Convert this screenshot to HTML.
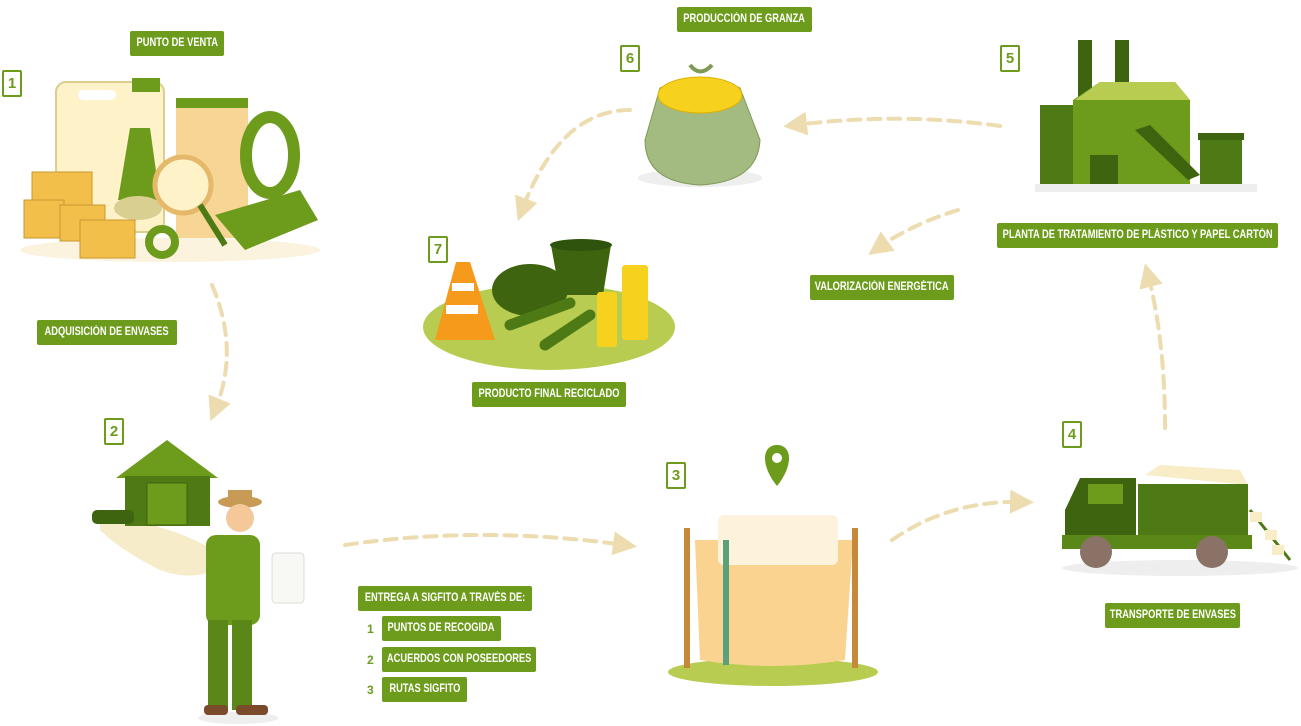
<!DOCTYPE html>
<html><head><meta charset="utf-8"><style>
body{margin:0;width:1301px;height:726px;background:#fff;position:relative;overflow:hidden;font-family:"Liberation Sans",sans-serif}
.l{position:absolute;background:#6d9c1c;color:#fff;font-weight:bold;font-size:11.5px;height:25px;line-height:25px;border-radius:2px;white-space:nowrap;display:flex;justify-content:center}
.l span{display:block;flex-shrink:0;transform:scaleX(0.81);transform-origin:center}
.n{position:absolute;width:16px;height:23px;border:2px solid #6d9c1c;border-radius:2px;color:#6d9c1c;font-weight:bold;font-size:15px;line-height:23px;text-align:center}
.t{position:absolute;color:#6d9c1c;font-weight:bold;font-size:12px}
svg{position:absolute;left:0;top:0}
</style></head><body>
<svg width="1301" height="726" viewBox="0 0 1301 726">
<defs><marker id="a" viewBox="0 0 10 10" refX="5" refY="5" markerWidth="6" markerHeight="6" orient="auto"><path d="M0,0L10,5L0,10z" fill="#eddcb0"/></marker></defs>
<g fill="none" stroke="#eddcb0" stroke-width="4" stroke-dasharray="12 8" stroke-linecap="round" marker-end="url(#a)">
<path d="M212,285 Q240,350 215,410"/>
<path d="M630,110 Q560,110 522,210"/>
<path d="M1000,126 Q900,112 795,125"/>
<path d="M958,210 Q910,225 878,248"/>
<path d="M345,545 Q480,525 625,545"/>
<path d="M892,540 Q950,500 1022,502"/>
<path d="M1165,428 Q1165,340 1148,275"/>
</g>
<!-- scene 1 -->
<ellipse cx="170" cy="250" rx="150" ry="12" fill="#fbf3de"/>
<rect x="56" y="82" width="108" height="150" rx="10" fill="#fdf2c8" stroke="#d9cf90" stroke-width="2"/>
<rect x="78" y="90" width="38" height="10" rx="5" fill="#fff"/>
<rect x="132" y="78" width="28" height="14" fill="#6d9c1c"/>
<path d="M176,98h72v140h-72z" fill="#f7d695"/><rect x="176" y="98" width="72" height="10" fill="#6d9c1c"/>
<ellipse cx="270" cy="155" rx="24" ry="38" fill="none" stroke="#6d9c1c" stroke-width="12"/>
<path d="M118,200 L130,128 L150,128 L160,200z" fill="#6d9c1c"/><ellipse cx="138" cy="208" rx="24" ry="12" fill="#d9cf90"/>
<circle cx="183" cy="185" r="28" fill="#fdf2c8" stroke="#e6b86a" stroke-width="5"/><path d="M200,205 L225,245" stroke="#4d7a14" stroke-width="6"/>
<path d="M215,215 L300,190 L318,220 L245,250z" fill="#6d9c1c"/>
<g fill="#f2bf4b" stroke="#c99a30"><rect x="32" y="172" width="60" height="35"/><rect x="24" y="200" width="40" height="38"/><rect x="60" y="205" width="45" height="36"/><rect x="80" y="220" width="55" height="38"/></g>
<circle cx="162" cy="242" r="13" fill="none" stroke="#6d9c1c" stroke-width="8"/>
<!-- scene 2 -->
<path d="M100,515 Q180,525 230,560 Q200,585 160,570 Q120,550 100,530z" fill="#f7ecc9"/>
<path d="M116,478 L167,440 L218,478z" fill="#6d9c1c"/><rect x="125" y="476" width="85" height="50" fill="#4d7a14"/><rect x="147" y="483" width="40" height="42" fill="#6d9c1c" stroke="#3f6410"/>
<rect x="92" y="510" width="42" height="14" rx="5" fill="#3f6410"/>
<ellipse cx="238" cy="718" rx="40" ry="6" fill="#eee"/>
<ellipse cx="240" cy="502" rx="22" ry="6" fill="#c79a55"/><rect x="228" y="490" width="24" height="14" fill="#c79a55"/>
<circle cx="240" cy="518" r="14" fill="#f5c89a"/>
<rect x="206" y="535" width="54" height="90" rx="10" fill="#6d9c1c"/>
<rect x="208" y="620" width="20" height="90" fill="#5a8818"/><rect x="232" y="620" width="20" height="90" fill="#5a8818"/>
<rect x="204" y="705" width="24" height="10" rx="4" fill="#7a4a2a"/><rect x="236" y="705" width="32" height="10" rx="4" fill="#7a4a2a"/>
<rect x="272" y="553" width="32" height="50" rx="4" fill="#f8f8f4" stroke="#ddd"/>
<!-- scene 3 -->
<ellipse cx="773" cy="672" rx="105" ry="14" fill="#b9cc52"/>
<path d="M695,540 L853,540 L845,660 Q773,672 700,660z" fill="#fad391"/>
<rect x="718" y="515" width="120" height="50" rx="6" fill="#fdf2dc"/>
<rect x="723" y="540" width="6" height="125" fill="#5aa07a"/>
<rect x="684" y="528" width="6" height="140" fill="#c4893a"/><rect x="852" y="528" width="6" height="140" fill="#c4893a"/>
<path d="M777,486 C760,465 762,445 777,445 C792,445 794,465 777,486z" fill="#6d9c1c"/><circle cx="777" cy="458" r="5" fill="#fff"/>
<!-- scene 4 -->
<ellipse cx="1180" cy="568" rx="118" ry="8" fill="#eee"/>
<path d="M1145,475 L1160,465 L1240,470 L1248,485z" fill="#f8edc6"/>
<rect x="1138" y="484" width="110" height="60" fill="#4d7a14"/>
<path d="M1065,540 L1065,510 L1080,478 L1136,478 L1136,545z" fill="#3f6410"/><rect x="1088" y="484" width="35" height="20" fill="#6d9c1c"/>
<rect x="1062" y="535" width="190" height="14" fill="#5a8818"/>
<circle cx="1096" cy="552" r="16" fill="#8a7366"/><circle cx="1212" cy="552" r="16" fill="#8a7366"/>
<path d="M1250,510 L1290,560" stroke="#4d7a14" stroke-width="3"/><g fill="#f8edc6"><rect x="1250" y="512" width="12" height="10"/><rect x="1265" y="530" width="12" height="10"/><rect x="1272" y="545" width="12" height="10"/></g>
<!-- scene 5 -->
<rect x="1078" y="40" width="14" height="80" fill="#3f6410"/><rect x="1115" y="40" width="14" height="70" fill="#3f6410"/>
<rect x="1040" y="105" width="40" height="85" fill="#4d7a14"/>
<path d="M1073,100 L1100,82 L1175,82 L1190,100 L1190,188 L1073,188z" fill="#6d9c1c"/>
<path d="M1075,100 L1100,82 L1175,82 L1190,100z" fill="#b9cc52"/>
<rect x="1090" y="155" width="28" height="33" fill="#3f6410"/>
<path d="M1135,130 L1150,125 L1200,175 L1188,180z" fill="#3f6410"/>
<rect x="1200" y="137" width="42" height="52" fill="#4d7a14"/><rect x="1198" y="133" width="46" height="7" fill="#3f6410"/>
<rect x="1035" y="184" width="222" height="8" fill="#eee"/>
<!-- scene 6 -->
<ellipse cx="700" cy="178" rx="62" ry="9" fill="#eee"/>
<path d="M660,88 Q700,70 740,88 L760,140 Q758,182 700,185 Q645,182 645,140z" fill="#a3bb80" stroke="#7e9a55"/>
<ellipse cx="700" cy="95" rx="42" ry="18" fill="#f6d21e" stroke="#e0b100"/>
<path d="M690,65 Q700,78 712,65" fill="none" stroke="#7e9a55" stroke-width="4"/>
<!-- scene 7 -->
<ellipse cx="549" cy="327" rx="126" ry="43" fill="#b9cc52"/>
<path d="M456,262 L470,262 L495,340 L435,340z" fill="#f59a1a"/><rect x="452" y="283" width="22" height="8" fill="#fff"/><rect x="446" y="305" width="32" height="9" fill="#fff"/>
<ellipse cx="530" cy="290" rx="38" ry="26" fill="#3f6410"/>
<path d="M551,245 L611,245 L603,295 L560,295z" fill="#3f6410"/><ellipse cx="581" cy="245" rx="31" ry="6" fill="#2f520d"/>
<g stroke="#4d7a14" stroke-width="11" stroke-linecap="round"><path d="M510,325 L570,303"/><path d="M545,345 L590,315"/></g>
<rect x="622" y="265" width="26" height="75" rx="3" fill="#f6d21e"/><rect x="597" y="292" width="20" height="55" rx="3" fill="#f6d21e"/>
</svg>
<div class="l" style="left:130px;top:31px;width:94px"><span>PUNTO DE VENTA</span></div>
<div class="n" style="left:2px;top:70px">1</div>
<div class="l" style="left:37px;top:320px;width:140px"><span>ADQUISICIÓN DE ENVASES</span></div>
<div class="n" style="left:104px;top:418px">2</div>
<div class="l" style="left:677px;top:7px;width:135px"><span>PRODUCCIÓN DE GRANZA</span></div>
<div class="n" style="left:620px;top:45px">6</div>
<div class="n" style="left:1000px;top:45px">5</div>
<div class="n" style="left:428px;top:236px">7</div>
<div class="l" style="left:997px;top:223px;width:281px"><span>PLANTA DE TRATAMIENTO DE PLÁSTICO Y PAPEL CARTÓN</span></div>
<div class="l" style="left:810px;top:275px;width:144px"><span>VALORIZACIÓN ENERGÉTICA</span></div>
<div class="l" style="left:472px;top:382px;width:154px"><span>PRODUCTO FINAL RECICLADO</span></div>
<div class="n" style="left:666px;top:462px">3</div>
<div class="n" style="left:1062px;top:421px">4</div>
<div class="l" style="left:1105px;top:603px;width:135px"><span>TRANSPORTE DE ENVASES</span></div>
<div class="l" style="left:358px;top:586px;width:174px"><span>ENTREGA A SIGFITO A TRAVÉS DE:</span></div>
<div class="t" style="left:367px;top:622px">1</div>
<div class="l" style="left:382px;top:616px;width:119px"><span>PUNTOS DE RECOGIDA</span></div>
<div class="t" style="left:367px;top:653px">2</div>
<div class="l" style="left:382px;top:647px;width:154px"><span>ACUERDOS CON POSEEDORES</span></div>
<div class="t" style="left:367px;top:683px">3</div>
<div class="l" style="left:382px;top:677px;width:85px"><span>RUTAS SIGFITO</span></div>
</body></html>
